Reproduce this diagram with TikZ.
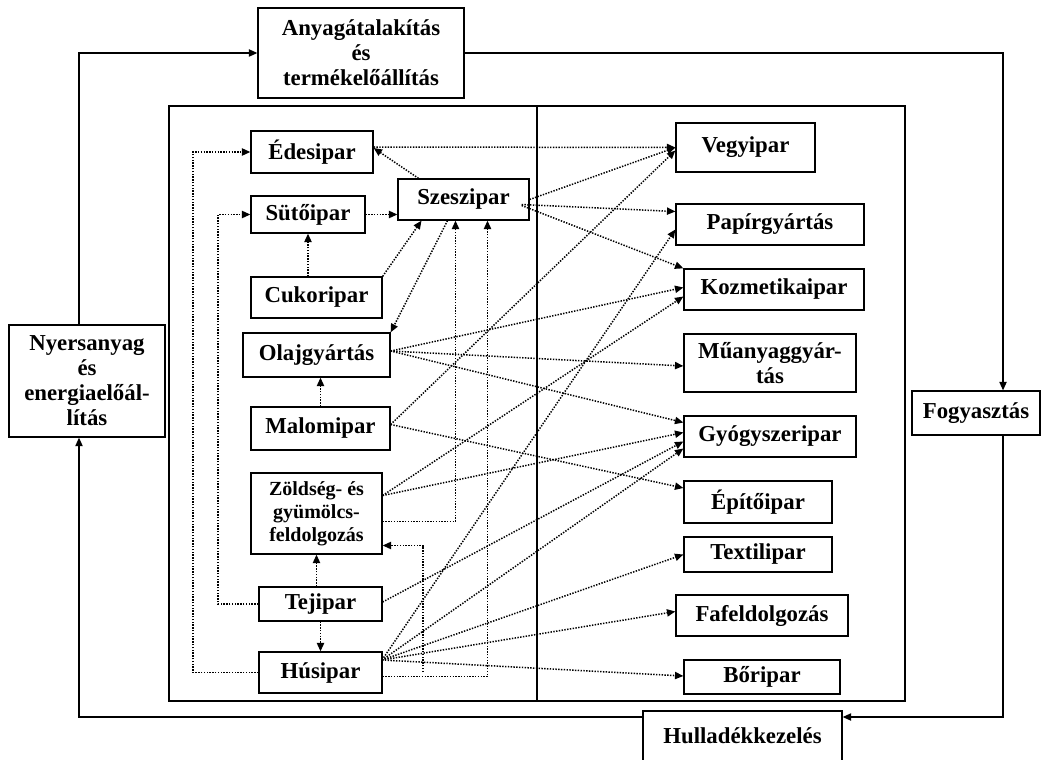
\documentclass[tikz,border=0pt]{standalone}
\usepackage{fontspec}
\setmainfont{Liberation Serif}
\usetikzlibrary{arrows.meta}
\usetikzlibrary{calc}
\tikzset{
	node_box/.style = {
		rectangle,
		draw=black,
		line width=0.65pt,
		align=center,
		inner sep=0pt,
		text centered,
		font=\bfseries\fontsize{11.4}{12.5}\selectfont
	},
	node_small/.style = {
		node_box,
		font=\bfseries\fontsize{10}{11.5}\selectfont
	},
	wh/.style 2 args = {
		minimum width=#1*0.5pt,
		minimum height=#2*0.5pt
	},
	frame_line/.style = {
		draw=black,
		line width=0.85pt
	},
	edge_main/.style = {
		->,
		draw=black,
		line width=0.6pt
	},
	edge_dot/.style = {
		->,
		draw=black,
		line width=0.75pt,
		dash pattern=on 0.7pt off 0.7pt
	},
}
\begin{document}
\begin{tikzpicture}[x=0.5pt, y=-0.5pt, >={Triangle[length=4.2pt,width=3.6pt]}]
\useasboundingbox (0,0) rectangle (1042,759);

\draw[frame_line] (169,106) rectangle (905,701);
\draw[frame_line, line width=1pt] (537,106) -- (537,701);

\node [node_box, wh={206}{90}] (anyag) at (361,53) {Anyagátalakítás\\és\\termékelőállítás};
\node [node_box, wh={156}{112}] (nyers) at (87,381) {Nyersanyag\\és\\energiaelőál-\\lítás};
\node [node_box, wh={128}{44}] (fogy) at (976,413) {Fogyasztás};
\node [node_box, wh={199}{50}] (hull) at (742.5,736) {Hulladékkezelés};

\node [node_box, wh={122}{42}] (edes) at (312,152) {Édesipar};
\node [node_box, wh={114}{37}] (sutoi) at (308,214.5) {Sütőipar};
\node [node_box, wh={131}{41}] (szesz) at (463.5,199.5) {Szeszipar};
\node [node_box, wh={131}{41}] (cukor) at (316.5,297.5) {Cukoripar};
\node [node_box, wh={147}{44}] (olaj) at (316.5,355) {Olajgyártás};
\node [node_box, wh={139}{43}] (malom) at (320.5,428.5) {Malomipar};
\node [node_small, wh={131}{81}] (zold) at (316.5,513.5) {Zöldség- és\\gyümölcs-\\feldolgozás};
\node [node_box, wh={123}{34}] (tej) at (320.5,604) {Tejipar};
\node [node_box, wh={123}{41}] (hus) at (320.5,672.5) {Húsipar};

\node [node_box, wh={139}{49}] (vegy) at (745.5,147.5) {Vegyipar};
\node [node_box, wh={188}{41}] (papir) at (770,224.5) {Papírgyártás};
\node [node_box, wh={180}{41}] (kozm) at (774,289.5) {Kozmetikaipar};
\node [node_box, wh={172}{58}] (muany) at (770,363) {Műanyaggyár-\\tás};
\node [node_box, wh={172}{41}] (gyogy) at (770,436.5) {Gyógyszeripar};
\node [node_box, wh={148}{42}] (epito) at (758,502) {Építőipar};
\node [node_box, wh={148}{35}] (textil) at (758,554.5) {Textilipar};
\node [node_box, wh={172}{41}] (fafel) at (762,615.5) {Fafeldolgozás};
\node [node_box, wh={156}{34}] (bor) at (762,677) {Bőripar};

\coordinate (lx) at (79,0);
\coordinate (rx) at (1003,0);
\coordinate (by) at (0,717);
\coordinate (lx1) at (193,0);
\coordinate (lx2) at (218,0);
\coordinate (zfree) at (423,672);
\coordinate (husfan) at (382,660);

\draw[edge_main] (lx |- nyers.north) |- (anyag.west);
\draw[edge_main] (anyag.east) -| (rx |- fogy.north);
\draw[edge_main] (rx |- fogy.south) |- (hull.east |- by);
\draw[edge_main] (hull.west |- by) -| (lx |- nyers.south);

\draw[edge_dot] (hus.west) -| (lx1 |- edes.west) -- (edes.west);
\draw[edge_dot] (tej.west) -| (lx2 |- sutoi.west) -- (sutoi.west);
\draw[edge_dot] (sutoi.east) -- (sutoi.east -| szesz.west);
\draw[edge_dot] (cukor.north -| sutoi.south) -- (sutoi.south);
\draw[edge_dot] (cukor.north east) -- ($(szesz.south)+(-42,0)$);
\draw[edge_dot] ($(szesz.north)+(-45,0)$) -- ($(edes.east)+(0,-4)$);
\draw[edge_dot] ($(szesz.south)+(-16,0)$) -- (olaj.north east);
\draw[edge_dot] (malom.north) -- (olaj.south -| malom.north);
\draw[edge_dot] ($(zold.east)+(0,8)$) -| ($(szesz.south)+(-8,0)$);
\draw[edge_dot] ($(hus.east)+(0,4)$) -| ($(szesz.south)+(24,0)$);
\draw[edge_dot] (zold.south |- tej.north) -- (zold.south);
\draw[edge_dot] (tej.south) -- (hus.north);
\draw[edge_dot] (zfree) |- ($(zold.east)+(0,32)$);

\draw[edge_dot] ($(edes.east)+(0,-5)$) -- (vegy.west);
\draw[edge_dot] (szesz.east) -- (vegy.west);
\draw[edge_dot] ($(szesz.east)+(-8,5)$) -- ($(papir.west)+(0,-13)$);
\draw[edge_dot] ($(szesz.east)+(-8,6)$) -- (kozm.north west);
\draw[edge_dot] ($(malom.east)+(0,-4)$) -- ($(vegy.west)+(0,3)$);
\draw[edge_dot] ($(malom.east)+(0,-4)$) -- ($(epito.west)+(0,-14)$);
\draw[edge_dot] ($(olaj.east)+(0,-4)$) -- ($(kozm.west)+(0,-2)$);
\draw[edge_dot] ($(olaj.east)+(0,-4)$) -- ($(muany.west)+(0,3)$);
\draw[edge_dot] ($(olaj.east)+(0,-4)$) -- ($(gyogy.west)+(0,-14)$);
\draw[edge_dot] ($(zold.east)+(0,-18)$) -- ($(kozm.west)+(0,7)$);
\draw[edge_dot] ($(zold.east)+(0,-18)$) -- ($(gyogy.west)+(0,-4)$);
\draw[edge_dot] ($(tej.east)+(0,-2)$) -- ($(gyogy.west)+(0,5)$);
\draw[edge_dot] (husfan) -- ($(gyogy.west)+(0,12)$);
\draw[edge_dot] (husfan) -- ($(papir.west)+(0,5)$);
\draw[edge_dot] (husfan) -- (textil.west);
\draw[edge_dot] (husfan) -- ($(fafel.west)+(0,-4)$);
\draw[edge_dot] (husfan) -- ($(bor.west)+(0,-1)$);
\end{tikzpicture}
\end{document}
